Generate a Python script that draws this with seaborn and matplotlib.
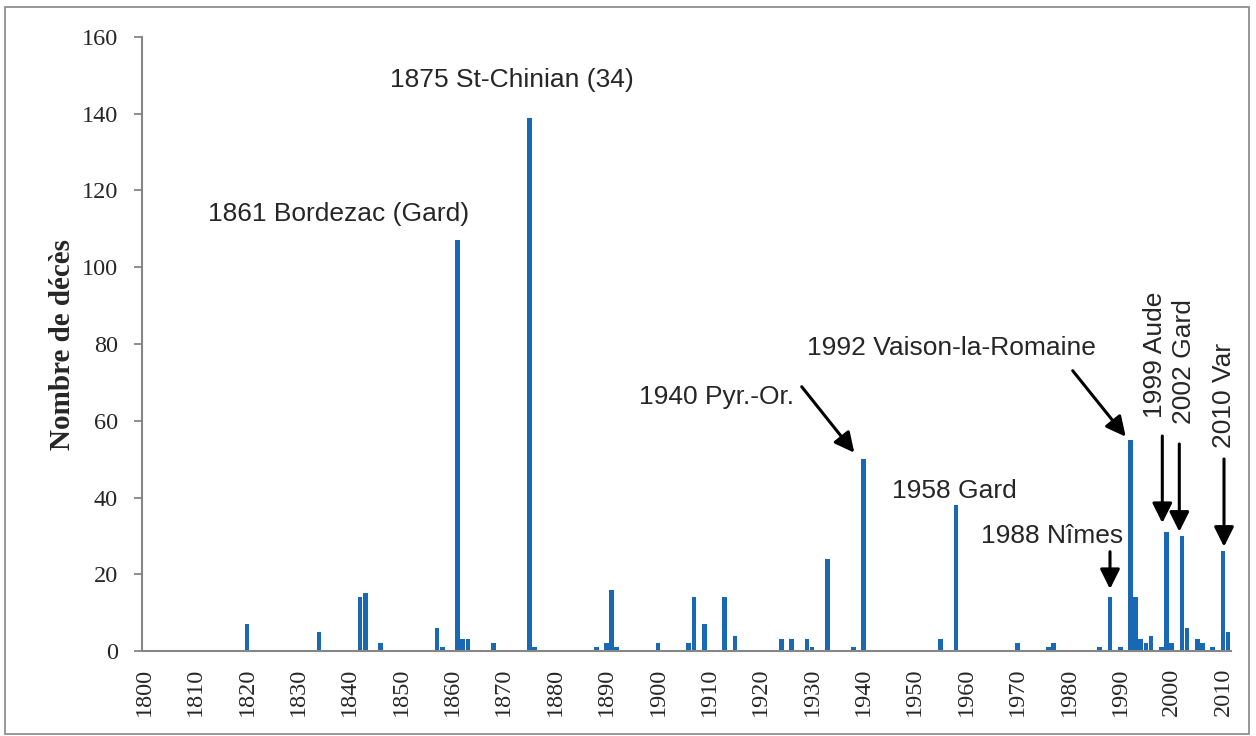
import matplotlib
matplotlib.use("Agg")
import matplotlib.pyplot as plt
from matplotlib.patches import Rectangle
import seaborn as sns

# ---- data -------------------------------------------------------------
years = [1820, 1834, 1842, 1843, 1846, 1857, 1858, 1861, 1862, 1863, 1868,
         1875, 1876, 1888, 1890, 1891, 1892, 1900, 1906, 1907, 1909, 1913,
         1915, 1924, 1926, 1929, 1930, 1933, 1938, 1940, 1955, 1958, 1970,
         1976, 1977, 1986, 1988, 1990, 1992, 1993, 1994, 1995, 1996, 1998,
         1999, 2000, 2002, 2003, 2005, 2006, 2008, 2010, 2011]
deaths = [7, 5, 14, 15, 2, 6, 1, 107, 3, 3, 2,
          139, 1, 1, 2, 16, 1, 2, 2, 14, 7, 14,
          4, 3, 3, 3, 1, 24, 1, 50, 3, 38, 2,
          1, 2, 1, 14, 1, 55, 14, 3, 2, 4, 1,
          31, 2, 30, 6, 3, 2, 1, 26, 5]
first_year, last_year = 1800, 2011
ylabel = "Nombre de décès"
yticks = [0, 20, 40, 60, 80, 100, 120, 140, 160]

labels = ["1875 St-Chinian (34)", "1861 Bordezac (Gard)", "1940 Pyr.-Or.",
          "1958 Gard", "1988 Nîmes", "1992 Vaison-la-Romaine",
          "1999 Aude", "2002 Gard", "2010 Var"]

# ---- build full yearly series -----------------------------------------
all_years = list(range(first_year, last_year + 1))
lookup = dict(zip(years, deaths))
all_values = [lookup.get(y, 0) for y in all_years]

sns.set_style("white")
plt.rcParams["font.family"] = ["Liberation Sans", "DejaVu Sans"]

W, H = 1256, 736
fig = plt.figure(figsize=(W / 100, H / 100), dpi=100)
L, R, B, T = 141.7, 1230.7, 651.0, 37.0
ax = fig.add_axes([L / W, 1 - B / H, (R - L) / W, (B - T) / H])

BLUE = "#1868B4"
sns.barplot(x=all_years, y=all_values, color=BLUE, saturation=1,
            width=0.92, ax=ax, edgecolor="none")

ax.set_xlim(-0.5, len(all_years) - 0.5)
ax.set_ylim(0, 160)

dec_pos = [i for i, y in enumerate(all_years) if y % 10 == 0]
ax.set_xticks(dec_pos)
ax.set_xticklabels([str(all_years[i]) for i in dec_pos], rotation=90,
                   family="Liberation Serif", fontsize=17.5)
ax.set_yticks(yticks)
ax.set_yticklabels([str(v) for v in yticks], family="Liberation Serif",
                   fontsize=17.5)
ax.tick_params(axis="x", length=0, pad=12)
ax.tick_params(axis="y", length=6, width=1.3, color="#868686", pad=11,
               direction="out", left=True)
ax.set_xlabel("")
ax.set_ylabel(ylabel, family="Liberation Serif", fontweight="bold",
              fontsize=21, labelpad=4)

for s in ["top", "right"]:
    ax.spines[s].set_visible(False)
for s in ["left", "bottom"]:
    ax.spines[s].set_color("#868686")
    ax.spines[s].set_linewidth(1.5)
ax.grid(False)


def px2data(px, py):
    return (px - L) / ((R - L) / len(all_years)) - 0.5, (B - py) / ((B - T) / 160)


FS = 19
arrow_kw = dict(arrowstyle="-|>", color="black", lw=2.2,
                mutation_scale=30, shrinkA=0, shrinkB=0)

for txt, (px, py) in [(labels[0], (512, 80)), (labels[1], (339, 214)),
                      (labels[3], (954, 491))]:
    x, y = px2data(px, py)
    ax.text(x, y, txt, ha="center", va="center", fontsize=FS)

for txt, (px, py), (sx, sy), (tx, ty) in [
        (labels[2], (716.7, 397), (801.7, 386.7), (854.3, 452.7)),
        (labels[4], (1051.7, 536), (1110, 551.7), (1110, 589)),
        (labels[5], (951.7, 348), (1072.7, 370.7), (1125.7, 436.7))]:
    x, y = px2data(px, py)
    ax.text(x, y, txt, ha="center", va="center", fontsize=FS)
    ax.annotate("", xy=px2data(tx, ty), xytext=px2data(sx, sy),
                arrowprops=arrow_kw)

for txt, (px, py), (ax_x, sy, ty) in [
        (labels[6], (1155, 354.5), (1162.3, 436, 523)),
        (labels[7], (1184, 362), (1179.3, 444, 531.7)),
        (labels[8], (1224, 395), (1224, 459, 546.7))]:
    x, y = px2data(px, py)
    ax.text(x, y, txt, ha="center", va="center", fontsize=FS, rotation=90)
    ax.annotate("", xy=px2data(ax_x, ty), xytext=px2data(ax_x, sy),
                arrowprops=arrow_kw)

fig.add_artist(Rectangle((5 / W, 2 / H), (1249 - 5) / W, (729 - 2) / H,
                         transform=fig.transFigure, fill=False,
                         edgecolor="#868686", linewidth=1.2))

fig.savefig("out.png", dpi=100)
